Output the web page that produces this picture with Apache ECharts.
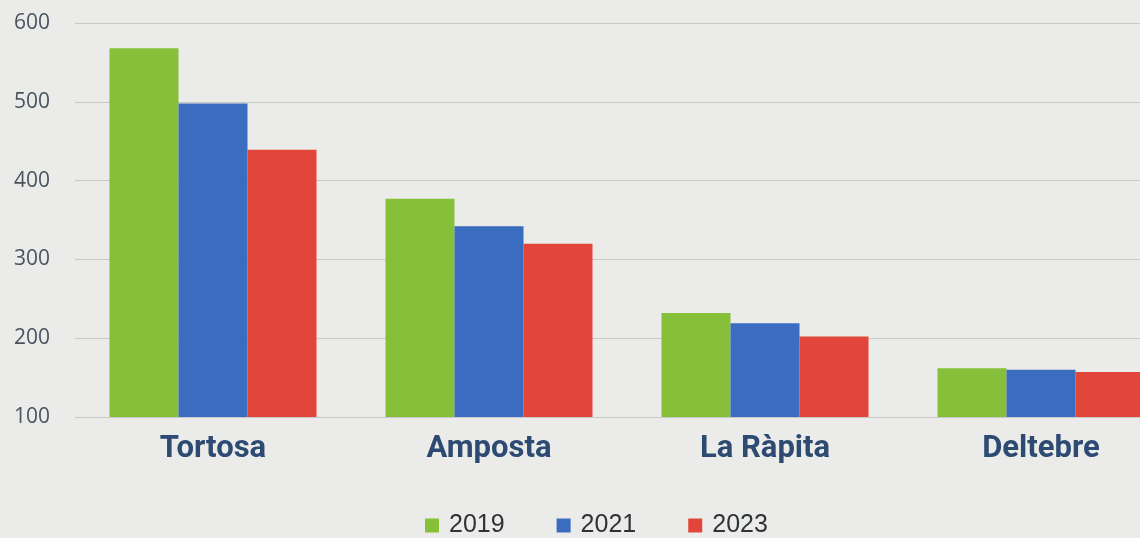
<!DOCTYPE html>
<html>
<head>
<meta charset="utf-8">
<script src="https://cdn.jsdelivr.net/npm/echarts@6/dist/echarts.min.js"></script>
<style>
  html, body { margin: 0; padding: 0; background: #ebebe9; overflow: hidden; }
  #chart { width: 1140px; height: 538px; }
</style>
</head>
<body>
<div id="chart"></div>
<script>
const categories = ['Tortosa', 'Amposta', 'La Ràpita', 'Deltebre'];
const years = ['2019', '2021', '2023'];
const values2019 = [568, 377, 232, 162];
const values2021 = [498, 342, 219, 160];
const values2023 = [439, 320, 202, 157];
const yTicks = [100, 200, 300, 400, 500, 600];

const colors = ['#86c03a', '#3a6cc0', '#e2463a'];
const seriesValues = [values2019, values2021, values2023];

let chart = echarts.init(document.getElementById('chart'));

// the plot runs past the right edge of the picture, so width is set by hand
const option = {
    backgroundColor: '#ebebe9',
    color: colors,
    legend: {
        data: years,
        top: 508,
        left: 420,
        itemWidth: 14,
        itemHeight: 14,
        itemGap: 52,
        icon: 'rect',
        textStyle: { fontSize: 25, color: '#2e3338', fontFamily: 'Liberation Sans', padding: [0, 0, 0, 5] }
    },
    grid: { left: 75, width: 1104, top: 23, height: 394, outerBoundsMode: 'none' },
    xAxis: {
        type: 'category',
        data: categories,
        axisLine: { show: false },
        axisTick: { show: false },
        axisLabel: {
            margin: 17,
            fontSize: 31,
            fontWeight: 'bold',
            color: '#2c4a72',
            fontFamily: 'Roboto'
        }
    },
    yAxis: {
        type: 'value',
        min: yTicks[0],
        max: yTicks[yTicks.length - 1],
        interval: 100,
        axisLine: { show: false },
        axisTick: { show: false },
        axisLabel: { margin: 25, fontSize: 21, color: '#4a545e', fontFamily: 'Open Sans' },
        splitLine: { lineStyle: { color: '#c9c9c9', width: 1 } }
    },
    series: years.map(function (y, i) {
        return {
            name: y,
            type: 'bar',
            data: seriesValues[i],
            barGap: '0%',
            barCategoryGap: '25%'
        };
    })
};

chart.setOption(option);
</script>
</body>
</html>
